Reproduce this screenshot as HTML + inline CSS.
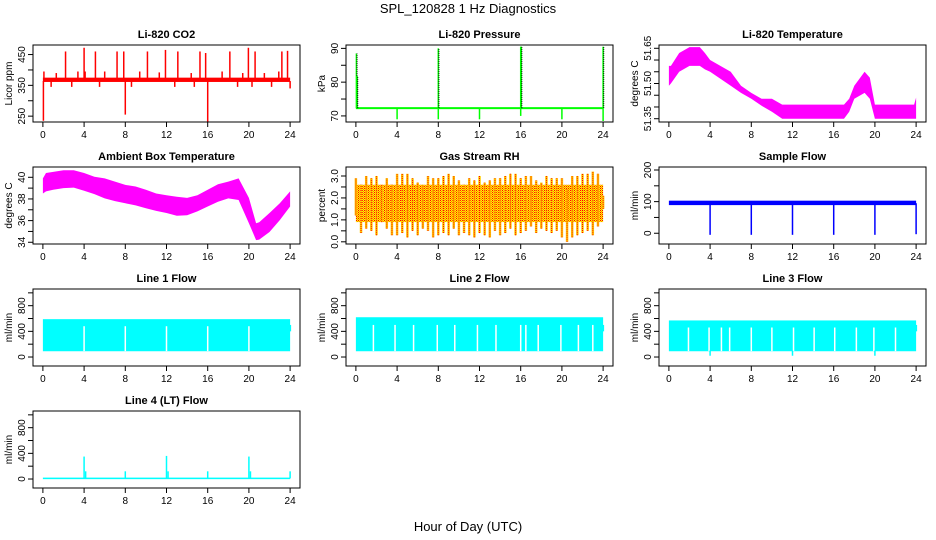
<!DOCTYPE html>
<html><head><meta charset="utf-8"><style>
html,body{margin:0;padding:0;background:#fff;}
svg{display:block;font-family:"Liberation Sans",Arial,sans-serif;}
</style></head><body>
<svg id="fig" width="936" height="540" viewBox="0 0 936 540">
<defs>
<pattern id="rhpat" width="2" height="2" patternUnits="userSpaceOnUse">
<rect width="2" height="2" fill="#ffff00"/><rect width="1" height="1" fill="#ff0000"/><rect x="1" y="1" width="1" height="1" fill="#ff8000"/>
</pattern>
</defs>
<text x="468" y="13" text-anchor="middle" font-size="13">SPL_120828  1 Hz Diagnostics</text>
<text x="468" y="531" text-anchor="middle" font-size="13">Hour of Day (UTC)</text>
</svg>
<script>
// ---- data ----
const xTicks = [0,4,8,12,16,20,24];
const co2SpikeHours = [0.05,0.1,2.2,4.0,4.1,5.1,7.2,7.85,8.0,10.15,11.9,13.1,15.25,15.8,16.0,18.15,19.95,20.6,23.2,23.75,1.3,3.4,6.0,9.4,11.3,14.4,17.4,19.4,21.5,22.9,0.8,2.8,5.5,8.6,12.8,14.7,18.9,20.3,22.2,24.0];
const co2SpikeVals  = [235,395,460,472,395,460,460,460,255,460,465,460,460,455,232,460,472,460,460,462,390,395,395,395,392,390,395,390,390,395,345,345,345,345,345,345,345,345,345,340];
const presUpHours = [0.05,0.12,8.0,16.0,16.05,24.0];
const presUpVals  = [88.5,81.8,90,90.5,90.5,90.5];
const presDownHours = [4,8,12,16,20,24];
const presDownVals  = [69,69,69,70,69,68.5];
const tempHours = [0,0.2,1,2,3,3.5,4,5,6,7,8,9,10,11,12,14,16,17,17.5,18,19,19.5,20,21,22,23,23.8,24];
const tempUpper = [51.575,51.575,51.63,51.655,51.655,51.63,51.60,51.575,51.55,51.49,51.46,51.435,51.435,51.41,51.41,51.41,51.41,51.41,51.435,51.49,51.55,51.525,51.41,51.41,51.41,51.41,51.41,51.44];
const tempLower = [51.49,51.50,51.55,51.575,51.575,51.56,51.55,51.52,51.49,51.46,51.435,51.405,51.38,51.35,51.35,51.35,51.35,51.35,51.38,51.435,51.46,51.435,51.35,51.35,51.35,51.35,51.35,51.35];
const ambHours = [0,0.3,1,2,3,4,5,6,7,8,9,10,11,12,13,14,15,16,17,18,19,20,20.7,21,22,23,24];
const ambUpper = [39.9,40.4,40.5,40.65,40.65,40.4,40.05,39.9,39.6,39.3,39.15,38.85,38.5,38.35,38.2,38.1,38.35,38.85,39.35,39.6,39.9,38.1,35.75,35.85,36.7,37.6,38.7];
const ambLower = [38.5,38.7,38.85,39.0,39.05,38.75,38.45,38.05,37.8,37.6,37.4,37.15,36.9,36.7,36.45,36.5,36.85,37.3,37.75,38.05,37.9,35.75,34.2,34.25,34.95,36.05,37.3];
const rhUpper = [2.9,2.6,3.0,2.9,3.0,2.6,2.9,2.6,3.1,3.1,3.1,2.9,2.7,2.6,3.0,2.9,2.9,3.0,3.1,3.0,2.8,2.6,2.9,2.8,3.0,2.7,2.8,2.9,2.9,3.0,3.1,3.1,2.9,3.0,3.0,2.8,2.7,3.0,2.9,2.9,2.9,2.4,3.0,3.0,3.1,3.1,3.2,3.1,2.1];
const rhLower = [1.2,0.4,0.6,0.5,0.3,0.9,0.6,0.3,0.3,0.4,0.2,0.5,0.3,0.6,0.5,0.2,0.3,0.4,0.3,0.6,0.3,0.4,0.3,0.2,0.4,0.3,0.2,0.5,0.3,0.4,0.6,0.3,0.4,0.5,0.7,0.4,0.6,0.5,0.4,0.5,0.2,0.0,0.2,0.3,0.4,0.5,0.3,0.7,1.5];
const sfDipHours = [4,8,12,16,20,24];
const sfDipVals  = [-5,-5,-5,-5,-5,-3];
const l1Gaps = [4,8,12,16,20];
const l2Gaps = [1.7,3.8,5.6,7.9,9.6,11.8,13.6,16.0,16.5,17.7,19.9,21.6,23.0];
const l3Gaps = [1.9,3.9,5.1,5.9,8.0,10.0,12.1,14.1,16.1,18.2,19.9,22.0];
const l3DipHours = [4,12,20];
const l3DipVals = [20,20,20];
const l4SpikeHours = [4,4.15,8,12,12.15,16,20,20.15,24];
const l4SpikeVals  = [350,120,120,360,120,120,350,120,120];

const NS='http://www.w3.org/2000/svg';
const svg=document.getElementById('fig');
function el(tag,attrs,parent){const e=document.createElementNS(NS,tag);for(const k in attrs)e.setAttribute(k,attrs[k]);(parent||svg).appendChild(e);return e;}

function panel(col,row,title,ylab,usr,ticks,labels,name){
  const L=[33,346,659][col], T=[45,167,289,411][row], W=267, H=77;
  const g=el('g',{});
  
  
  const sx=h=>L+(h+0.96)/25.92*W;
  const sy=v=>T+H-(v-usr[0])/(usr[1]-usr[0])*H;
  const t=el('text',{x:L+W/2,y:T-7,'text-anchor':'middle','font-size':11,'font-weight':'bold'},g);
  t.textContent=title;
  
  
  const yl=el('text',{x:0,y:0,'text-anchor':'middle','font-size':10,transform:`translate(${L-21},${T+H/2}) rotate(-90)`},g);
  yl.textContent=ylab;
  
  
  const ax=el('g',{},g);
  
  
  ticks.forEach(v=>{el('line',{x1:L-5,x2:L,y1:sy(v),y2:sy(v),stroke:'#000'},ax);});
  labels.forEach(lb=>{const y=sy(parseFloat(lb));const tx=el('text',{x:0,y:0,'text-anchor':'middle','font-size':10,transform:`translate(${L-8},${y}) rotate(-90)`},ax);tx.textContent=lb;});
  xTicks.forEach(h=>{el('line',{x1:sx(h),x2:sx(h),y1:T+H,y2:T+H+5,stroke:'#000'},ax);const tx=el('text',{x:sx(h),y:T+H+16,'text-anchor':'middle','font-size':10},ax);tx.textContent=h;});
  const plot=el('g',{},g);
  
  
  const box=el('rect',{x:L,y:T,width:W,height:H,fill:'none',stroke:'#000'},g);
  
  
  return {sx,sy,plot,L,T,W,H};
}
function vline(p,h,v1,v2,color,w,extra){const a={x1:p.sx(h),x2:p.sx(h),y1:p.sy(v1),y2:p.sy(v2),stroke:color,'stroke-width':w||1.5};if(extra)Object.assign(a,extra);return el('line',a,p.plot);}
function band(p,hours,up,lo,fill){
  let pts=[];
  hours.forEach((h,i)=>pts.push([h,up[i]]));
  for(let i=hours.length-1;i>=0;i--)pts.push([hours[i],lo[i]]);
  return el('polygon',{points:pts.map(q=>p.sx(q[0]).toFixed(1)+','+p.sy(q[1]).toFixed(1)).join(' '),fill:fill},p.plot);
}

// 1 CO2
let p=panel(0,0,'Li-820 CO2','Licor ppm',[231,481],[250,300,350,400,450],['250','350','450'],'co2');
el('rect',{x:p.sx(0),y:p.sy(375),width:p.sx(24)-p.sx(0),height:p.sy(361)-p.sy(375),fill:'#ff0000'},p.plot);
co2SpikeHours.forEach((h,i)=>{const b=co2SpikeVals[i]>368?372:364;const ln=vline(p,h,b,co2SpikeVals[i],'#ff0000',1.5);});

// 2 Pressure
p=panel(1,0,'Li-820 Pressure','kPa',[68.2,91],[70,75,80,85,90],['70','80','90'],'pressure');
el('rect',{x:p.sx(0),y:p.sy(72.6),width:p.sx(24)-p.sx(0),height:2,fill:'#00ff00'},p.plot);
presUpHours.forEach((h,i)=>{const ln=vline(p,h,72.3,presUpVals[i],'#00ff00',1.5);vline(p,h+0.06,72.3,presUpVals[i],'#000',1,{'stroke-dasharray':'1,1'});});
presDownHours.forEach((h,i)=>{const ln=vline(p,h,72.3,presDownVals[i],'#00ff00',1.5);});

// 3 Temperature
p=panel(2,0,'Li-820 Temperature','degrees C',[51.336,51.664],[51.35,51.4,51.45,51.5,51.55,51.6,51.65],['51.35','51.50','51.65'],'li820-temp');
let b=band(p,tempHours,tempUpper,tempLower,'#ff00ff');



// 4 Ambient
p=panel(0,1,'Ambient Box Temperature','degrees C',[33.84,40.95],[34,35,36,37,38,39,40],['34','36','38','40'],'ambient-temp');
b=band(p,ambHours,ambUpper,ambLower,'#ff00ff');



// 5 RH
p=panel(1,1,'Gas Stream RH','percent',[-0.1,3.41],[0,0.5,1,1.5,2,2.5,3],['0.0','1.0','2.0','3.0'],'rh');
el('rect',{x:p.sx(0),y:p.sy(2.6),width:p.sx(24)-p.sx(0),height:p.sy(0.9)-p.sy(2.6),fill:'url(#rhpat)'},p.plot);
rhUpper.forEach((u,i)=>{const h=i*0.5;const ln=vline(p,h,rhLower[i],u,'#ffcc00',2.5);vline(p,h,rhLower[i],u,'#ff0000',1,{'stroke-dasharray':'1,1'});});

// 6 Sample flow
p=panel(2,1,'Sample Flow','ml/min',[-34,209.5],[0,50,100,150,200],['0','100','200'],'sample-flow');
el('rect',{x:p.sx(0),y:p.sy(103),width:p.sx(24)-p.sx(0),height:p.sy(89)-p.sy(103),fill:'#0000ff'},p.plot);
sfDipHours.forEach((h,i)=>{const ln=vline(p,h,95,sfDipVals[i],'#0000ff',1.5);});

// Line flows
function lineFlow(col,row,title,name,top,gapTop,gaps,dipH,dipV){
  const q=panel(col,row,title,'ml/min',[-140,1060],[0,200,400,600,800,1000],['0','400','800'],name);
  const r=el('rect',{x:q.sx(0),y:q.sy(top),width:q.sx(24)-q.sx(0),height:q.sy(90)-q.sy(top),fill:'#00ffff'},q.plot);
  
  
  gaps.forEach(h=>{const ln=vline(q,h,92,gapTop,'#ffffff',1.5);});
  dipH.forEach((h,i)=>vline(q,h,100,dipV[i],'#00ffff',1.5));
  vline(q,24,400,500,'#00ffff',2);
  return q;
}
lineFlow(0,2,'Line 1 Flow','line1-flow',590,480,l1Gaps,[],[]);
lineFlow(1,2,'Line 2 Flow','line2-flow',620,500,l2Gaps,[],[]);
lineFlow(2,2,'Line 3 Flow','line3-flow',570,460,l3Gaps,l3DipHours,l3DipVals);

// Line 4
p=panel(0,3,'Line 4 (LT) Flow','ml/min',[-140,1060],[0,200,400,600,800,1000],['0','400','800'],'line4-flow');
el('rect',{x:p.sx(0),y:p.sy(22),width:p.sx(24)-p.sx(0),height:p.sy(-2)-p.sy(22),fill:'#00ffff'},p.plot);
l4SpikeHours.forEach((h,i)=>{const ln=vline(p,h,10,l4SpikeVals[i],'#00ffff',1.5);});
</script>
</body></html>
